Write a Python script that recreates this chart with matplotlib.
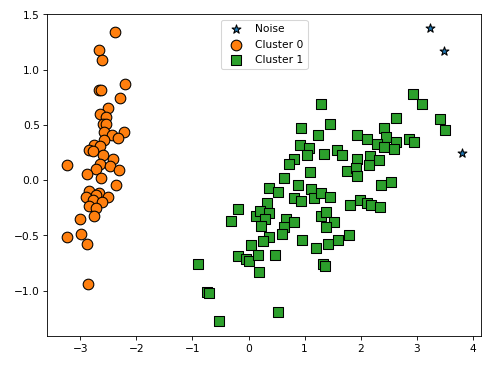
import numpy as np
import matplotlib
matplotlib.use("Agg")
import matplotlib.pyplot as plt

# --- Data ---
noise_x = [3.24, 3.49, 3.81]
noise_y = [1.38, 1.17, 0.25]

c0_x = [-2.39, -2.66, -2.62, -2.20, -2.67, -2.63, -2.29, -2.51, -2.65, -2.55,
        -2.60, -2.55, -2.57, -2.22, -2.43, -2.32, -2.57, -2.75, -2.65, -2.84,
        -2.78, -2.60, -2.41, -2.65, -3.23, -2.48, -2.72, -2.31, -2.88, -2.63,
        -2.37, -2.84, -2.66, -2.72, -2.90, -2.51, -2.78, -2.61, -2.85, -2.72,
        -2.75, -3.00, -2.99, -3.24, -2.89, -2.86]
c0_y = [1.34, 1.18, 1.09, 0.87, 0.82, 0.82, 0.74, 0.65, 0.60, 0.57,
        0.51, 0.51, 0.44, 0.44, 0.41, 0.38, 0.36, 0.32, 0.31, 0.27,
        0.26, 0.23, 0.19, 0.15, 0.14, 0.13, 0.10, 0.09, 0.06, 0.02,
        -0.04, -0.10, -0.12, -0.13, -0.15, -0.15, -0.18, -0.20, -0.23, -0.25,
        -0.32, -0.35, -0.49, -0.51, -0.58, -0.94]

c1_x = [1.30, 1.46, 0.94, 1.24, 0.91, 1.08, 1.05, 0.81, 0.72, 1.09,
        0.64, 0.36, 0.89, 0.52, 1.12, 0.81, 0.93, 1.16, -0.18, 0.33,
        0.14, 0.21, 0.37, -0.32, 0.30, 0.23, 0.66, 0.64, 0.81, 0.60,
        0.36, 0.26, 0.96, 0.04, 1.20, -0.18, -0.05, 0.00, 0.17, 0.47,
        -0.91, 0.18, -0.75, -0.70, 0.53, -0.52, 2.93, 3.10, 2.63, 3.41,
        3.51, 2.41, 1.94, 2.12, 2.45, 2.29, 2.63, 2.87, 2.95, 2.42,
        2.59, 1.34, 1.57, 1.67, 1.94, 2.16, 2.33, 2.15, 1.76, 1.91,
        1.93, 2.36, 2.55, 1.30, 1.45, 1.81, 1.99, 2.12, 2.18, 2.34,
        1.30, 1.39, 1.52, 1.39, 1.42, 1.59, 1.79, 1.32, 1.36]
c1_y = [0.69, 0.51, 0.47, 0.41, 0.32, 0.29, 0.23, 0.19, 0.15, 0.07,
        0.02, -0.07, -0.04, -0.11, -0.08, -0.16, -0.19, -0.16, -0.26, -0.21,
        -0.32, -0.28, -0.30, -0.37, -0.35, -0.41, -0.35, -0.42, -0.38, -0.49,
        -0.51, -0.55, -0.54, -0.59, -0.61, -0.69, -0.71, -0.73, -0.68, -0.68,
        -0.76, -0.83, -1.01, -1.02, -1.19, -1.27, 0.78, 0.69, 0.56, 0.55,
        0.45, 0.47, 0.41, 0.37, 0.39, 0.33, 0.35, 0.37, 0.35, 0.30,
        0.28, 0.24, 0.27, 0.23, 0.19, 0.22, 0.18, 0.14, 0.08, 0.11,
        0.04, -0.04, -0.02, -0.12, -0.15, -0.22, -0.18, -0.21, -0.22, -0.24,
        -0.32, -0.29, -0.38, -0.42, -0.58, -0.54, -0.50, -0.76, -0.78]

# --- Plot ---
# default 6.4 x 4.8 figure, rendered at a lower dpi to get ~490x366 px
fig = plt.figure(figsize=(6.4, 4.78), dpi=76.6)
ax = fig.add_axes([0.0965, 0.082, 0.885, 0.878])

ax.scatter(noise_x, noise_y, marker='*', s=75, c='#1f77b4',
           edgecolors='black', linewidths=1, label='Noise', zorder=3)
ax.scatter(c0_x, c0_y, marker='o', s=100, c='#ff7f0e',
           edgecolors='black', linewidths=1, label='Cluster 0', zorder=3)
ax.scatter(c1_x, c1_y, marker='s', s=90, c='#2ca02c',
           edgecolors='black', linewidths=1, label='Cluster 1', zorder=3)

ax.set_xlim(-3.59, 4.15)
ax.set_ylim(-1.41, 1.5)
ax.set_xticks([-3, -2, -1, 0, 1, 2, 3, 4])
ax.set_yticks([-1.0, -0.5, 0.0, 0.5, 1.0, 1.5])
ax.legend(loc='upper center')

fig.savefig('out.png', dpi=76.6)
